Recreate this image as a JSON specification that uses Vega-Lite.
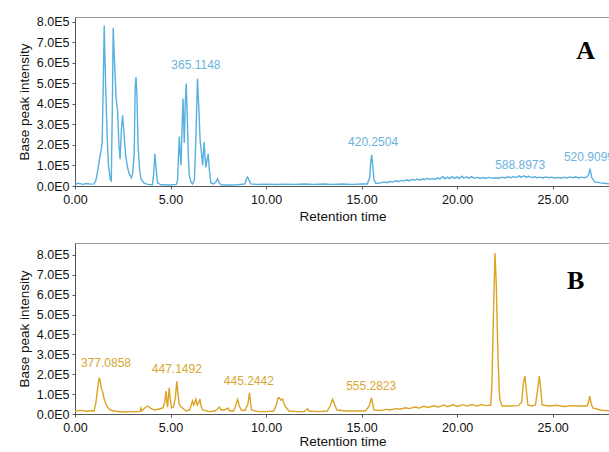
{
"$schema": "https://vega.github.io/schema/vega-lite/v6.json",
"padding": {"left": 16, "top": 15, "right": 0, "bottom": 0},
"background": "white",
"spacing": 18,
"config": {
 "font": "Liberation Sans",
 "view": {"stroke": "#9a9a9a", "strokeWidth": 1},
 "axis": {"grid": false, "labelFlush": false, "domainColor": "#555", "tickColor": "#555", "tickSize": 3, "labelFontSize": 12.5, "labelColor": "#111", "titleFontSize": 13.5, "titleFontWeight": "normal", "titleColor": "#111", "labelFont": "Liberation Sans", "titleFont": "Liberation Sans"}
},
"datasets": {
 "a": [
 {"t":0,"i":0.1},{"t":0.2,"i":0.13},{"t":0.4,"i":0.08},{"t":0.6,"i":0.12},{"t":0.8,"i":0.09},{"t":1.0,"i":0.1},{"t":1.1,"i":0.3},{"t":1.2,"i":0.8},{"t":1.3,"i":1.4},{"t":1.38,"i":1.8},{"t":1.42,"i":2.1},{"t":1.47,"i":4.5},{"t":1.53,"i":7.8},{"t":1.6,"i":5.0},{"t":1.68,"i":2.5},{"t":1.75,"i":1.0},{"t":1.85,"i":0.3},{"t":1.9,"i":0.25},{"t":1.95,"i":3.5},{"t":2.0,"i":7.7},{"t":2.07,"i":6.0},{"t":2.15,"i":4.3},{"t":2.23,"i":3.6},{"t":2.3,"i":2.0},{"t":2.36,"i":1.3},{"t":2.43,"i":2.8},{"t":2.49,"i":3.44},{"t":2.56,"i":2.6},{"t":2.65,"i":1.5},{"t":2.75,"i":0.9},{"t":2.84,"i":0.6},{"t":2.95,"i":0.4},{"t":3.02,"i":0.6},{"t":3.1,"i":1.6},{"t":3.15,"i":4.8},{"t":3.19,"i":5.3},{"t":3.24,"i":4.5},{"t":3.3,"i":2.0},{"t":3.38,"i":0.8},{"t":3.45,"i":0.35},{"t":3.6,"i":0.15},{"t":3.8,"i":0.08},{"t":4.05,"i":0.06},{"t":4.12,"i":0.6},{"t":4.18,"i":1.57},{"t":4.25,"i":0.8},{"t":4.32,"i":0.15},{"t":4.5,"i":0.06},{"t":5.0,"i":0.05},{"t":5.3,"i":0.08},{"t":5.37,"i":0.3},{"t":5.42,"i":1.6},{"t":5.46,"i":2.4},{"t":5.5,"i":1.6},{"t":5.55,"i":1.0},{"t":5.6,"i":2.8},{"t":5.65,"i":4.25},{"t":5.69,"i":3.0},{"t":5.72,"i":2.1},{"t":5.77,"i":4.0},{"t":5.82,"i":4.98},{"t":5.87,"i":3.5},{"t":5.93,"i":1.5},{"t":5.98,"i":0.5},{"t":6.07,"i":0.2},{"t":6.15,"i":0.1},{"t":6.25,"i":0.3},{"t":6.33,"i":2.5},{"t":6.41,"i":5.22},{"t":6.48,"i":3.8},{"t":6.55,"i":2.2},{"t":6.59,"i":1.9},{"t":6.68,"i":1.0},{"t":6.72,"i":1.6},{"t":6.76,"i":2.14},{"t":6.8,"i":1.5},{"t":6.85,"i":0.9},{"t":6.9,"i":1.2},{"t":6.97,"i":1.57},{"t":7.03,"i":0.8},{"t":7.11,"i":0.15},{"t":7.25,"i":0.1},{"t":7.38,"i":0.2},{"t":7.46,"i":0.35},{"t":7.55,"i":0.15},{"t":7.64,"i":0.06},{"t":8.0,"i":0.05},{"t":8.5,"i":0.06},{"t":8.9,"i":0.1},{"t":8.97,"i":0.35},{"t":9.03,"i":0.44},{"t":9.1,"i":0.3},{"t":9.2,"i":0.1},{"t":9.5,"i":0.08},{"t":10,"i":0.09},{"t":10.5,"i":0.07},{"t":11,"i":0.09},{"t":11.5,"i":0.08},{"t":12,"i":0.1},{"t":12.5,"i":0.08},{"t":13,"i":0.1},{"t":13.5,"i":0.08},{"t":14,"i":0.1},{"t":14.5,"i":0.08},{"t":15,"i":0.1},{"t":15.3,"i":0.1},{"t":15.42,"i":0.4},{"t":15.48,"i":1.2},{"t":15.53,"i":1.52},{"t":15.58,"i":1.0},{"t":15.65,"i":0.3},{"t":15.75,"i":0.12},{"t":16,"i":0.15},{"t":16.2,"i":0.2},{"t":16.3,"i":0.16},{"t":16.5,"i":0.22},{"t":16.6,"i":0.19},{"t":16.8,"i":0.25},{"t":16.9,"i":0.21},{"t":17.1,"i":0.27},{"t":17.2,"i":0.24},{"t":17.35,"i":0.3},{"t":17.5,"i":0.25},{"t":17.6,"i":0.31},{"t":17.8,"i":0.29},{"t":17.9,"i":0.34},{"t":18.05,"i":0.28},{"t":18.2,"i":0.35},{"t":18.3,"i":0.31},{"t":18.45,"i":0.38},{"t":18.55,"i":0.32},{"t":18.7,"i":0.36},{"t":18.85,"i":0.33},{"t":19.0,"i":0.4},{"t":19.1,"i":0.34},{"t":19.25,"i":0.46},{"t":19.35,"i":0.35},{"t":19.5,"i":0.43},{"t":19.6,"i":0.36},{"t":19.75,"i":0.47},{"t":19.85,"i":0.37},{"t":20.0,"i":0.44},{"t":20.1,"i":0.36},{"t":20.25,"i":0.48},{"t":20.35,"i":0.38},{"t":20.5,"i":0.45},{"t":20.6,"i":0.37},{"t":20.75,"i":0.46},{"t":20.9,"i":0.38},{"t":21.05,"i":0.42},{"t":21.2,"i":0.37},{"t":21.35,"i":0.41},{"t":21.5,"i":0.38},{"t":21.7,"i":0.42},{"t":21.85,"i":0.37},{"t":22.0,"i":0.4},{"t":22.2,"i":0.38},{"t":22.35,"i":0.43},{"t":22.5,"i":0.39},{"t":22.65,"i":0.45},{"t":22.8,"i":0.4},{"t":22.95,"i":0.46},{"t":23.1,"i":0.41},{"t":23.25,"i":0.49},{"t":23.35,"i":0.42},{"t":23.5,"i":0.5},{"t":23.6,"i":0.43},{"t":23.75,"i":0.47},{"t":23.9,"i":0.41},{"t":24.05,"i":0.45},{"t":24.2,"i":0.4},{"t":24.35,"i":0.43},{"t":24.5,"i":0.39},{"t":24.65,"i":0.44},{"t":24.8,"i":0.4},{"t":24.95,"i":0.43},{"t":25.1,"i":0.39},{"t":25.3,"i":0.42},{"t":25.45,"i":0.38},{"t":25.6,"i":0.43},{"t":25.75,"i":0.39},{"t":25.9,"i":0.44},{"t":26.05,"i":0.4},{"t":26.2,"i":0.45},{"t":26.35,"i":0.39},{"t":26.5,"i":0.43},{"t":26.65,"i":0.4},{"t":26.8,"i":0.44},{"t":26.88,"i":0.55},{"t":26.95,"i":0.84},{"t":27.05,"i":0.4},{"t":27.2,"i":0.2},{"t":27.5,"i":0.15},{"t":27.8,"i":0.12},{"t":28,"i":0.1}
 ],
 "b": [
 {"t":0,"i":0.15},{"t":0.3,"i":0.18},{"t":0.6,"i":0.14},{"t":0.9,"i":0.16},{"t":1.0,"i":0.15},{"t":1.1,"i":0.6},{"t":1.2,"i":1.4},{"t":1.27,"i":1.83},{"t":1.33,"i":1.6},{"t":1.38,"i":1.3},{"t":1.45,"i":1.1},{"t":1.53,"i":0.74},{"t":1.62,"i":0.5},{"t":1.71,"i":0.33},{"t":1.85,"i":0.2},{"t":2.06,"i":0.15},{"t":2.5,"i":0.1},{"t":3.0,"i":0.12},{"t":3.4,"i":0.12},{"t":3.45,"i":0.3},{"t":3.5,"i":0.15},{"t":3.65,"i":0.3},{"t":3.8,"i":0.4},{"t":3.95,"i":0.3},{"t":4.15,"i":0.2},{"t":4.4,"i":0.25},{"t":4.6,"i":0.3},{"t":4.7,"i":0.6},{"t":4.76,"i":1.15},{"t":4.81,"i":0.6},{"t":4.85,"i":0.35},{"t":4.89,"i":0.9},{"t":4.93,"i":1.32},{"t":4.98,"i":0.8},{"t":5.05,"i":0.3},{"t":5.15,"i":0.35},{"t":5.25,"i":0.8},{"t":5.33,"i":1.65},{"t":5.39,"i":1.0},{"t":5.45,"i":0.5},{"t":5.55,"i":0.35},{"t":5.63,"i":0.3},{"t":5.8,"i":0.15},{"t":6.0,"i":0.2},{"t":6.1,"i":0.5},{"t":6.15,"i":0.65},{"t":6.22,"i":0.45},{"t":6.28,"i":0.6},{"t":6.33,"i":0.75},{"t":6.4,"i":0.45},{"t":6.47,"i":0.55},{"t":6.54,"i":0.75},{"t":6.6,"i":0.4},{"t":6.68,"i":0.2},{"t":7.0,"i":0.12},{"t":7.3,"i":0.15},{"t":7.45,"i":0.25},{"t":7.56,"i":0.35},{"t":7.65,"i":0.2},{"t":7.8,"i":0.2},{"t":7.9,"i":0.25},{"t":7.99,"i":0.3},{"t":8.1,"i":0.15},{"t":8.3,"i":0.15},{"t":8.42,"i":0.45},{"t":8.51,"i":0.74},{"t":8.6,"i":0.4},{"t":8.7,"i":0.2},{"t":8.9,"i":0.18},{"t":9.05,"i":0.5},{"t":9.13,"i":1.07},{"t":9.2,"i":0.5},{"t":9.24,"i":0.2},{"t":9.6,"i":0.12},{"t":10.0,"i":0.12},{"t":10.4,"i":0.15},{"t":10.55,"i":0.5},{"t":10.62,"i":0.8},{"t":10.69,"i":0.82},{"t":10.76,"i":0.7},{"t":10.86,"i":0.75},{"t":10.95,"i":0.5},{"t":11.03,"i":0.35},{"t":11.2,"i":0.15},{"t":11.6,"i":0.12},{"t":12.0,"i":0.12},{"t":12.1,"i":0.2},{"t":12.17,"i":0.27},{"t":12.25,"i":0.15},{"t":12.7,"i":0.12},{"t":13.2,"i":0.15},{"t":13.35,"i":0.4},{"t":13.48,"i":0.74},{"t":13.58,"i":0.5},{"t":13.7,"i":0.2},{"t":14.2,"i":0.15},{"t":14.7,"i":0.15},{"t":15.2,"i":0.15},{"t":15.4,"i":0.4},{"t":15.52,"i":0.82},{"t":15.6,"i":0.4},{"t":15.65,"i":0.2},{"t":16,"i":0.18},{"t":16.3,"i":0.23},{"t":16.5,"i":0.2},{"t":16.8,"i":0.27},{"t":17.0,"i":0.24},{"t":17.3,"i":0.31},{"t":17.5,"i":0.27},{"t":17.8,"i":0.35},{"t":18.0,"i":0.3},{"t":18.25,"i":0.39},{"t":18.5,"i":0.33},{"t":18.75,"i":0.41},{"t":19.0,"i":0.35},{"t":19.3,"i":0.45},{"t":19.5,"i":0.37},{"t":19.8,"i":0.46},{"t":20.0,"i":0.38},{"t":20.3,"i":0.47},{"t":20.5,"i":0.4},{"t":20.8,"i":0.48},{"t":21.0,"i":0.4},{"t":21.3,"i":0.47},{"t":21.5,"i":0.42},{"t":21.76,"i":0.45},{"t":21.82,"i":1.5},{"t":21.9,"i":5.0},{"t":21.98,"i":8.1},{"t":22.05,"i":6.5},{"t":22.12,"i":3.5},{"t":22.2,"i":1.2},{"t":22.24,"i":0.7},{"t":22.36,"i":0.4},{"t":22.7,"i":0.4},{"t":23.2,"i":0.42},{"t":23.38,"i":0.6},{"t":23.46,"i":1.5},{"t":23.54,"i":1.91},{"t":23.6,"i":1.4},{"t":23.7,"i":0.45},{"t":23.9,"i":0.4},{"t":24.1,"i":0.45},{"t":24.22,"i":1.3},{"t":24.3,"i":1.91},{"t":24.37,"i":1.3},{"t":24.45,"i":0.45},{"t":24.8,"i":0.4},{"t":25.2,"i":0.44},{"t":25.6,"i":0.38},{"t":26.0,"i":0.42},{"t":26.4,"i":0.4},{"t":26.8,"i":0.4},{"t":26.88,"i":0.6},{"t":26.94,"i":0.9},{"t":27.02,"i":0.5},{"t":27.1,"i":0.3},{"t":27.5,"i":0.2},{"t":28,"i":0.15}
 ],
 "la": [{"t":6.33,"i":5.88,"s":"365.1148"},{"t":15.6,"i":2.14,"s":"420.2504"},{"t":23.3,"i":1.0,"s":"588.8973"},{"t":26.9,"i":1.4,"s":"520.9099"}],
 "lb": [{"t":1.62,"i":2.56,"s":"377.0858"},{"t":5.33,"i":2.26,"s":"447.1492"},{"t":9.1,"i":1.66,"s":"445.2442"},{"t":15.5,"i":1.41,"s":"555.2823"}],
 "pa": [{"t":26.73,"i":6.57,"s":"A"}],
 "pb": [{"t":26.2,"i":6.68,"s":"B"}]
},
"vconcat": [
 {
  "width": 535, "height": 169,
  "encoding": {
   "x": {"field": "t", "type": "quantitative", "scale": {"domain": [0, 28], "nice": false}, "axis": {"title": "Retention time", "values": [0,5,10,15,20,25], "format": ".2f", "labelPadding": 4, "titlePadding": 4}},
   "y": {"field": "i", "type": "quantitative", "scale": {"domain": [0, 8.22], "nice": false}, "axis": {"title": "Base peak intensity", "values": [0,1,2,3,4,5,6,7,8], "labelExpr": "format(datum.value, '.1f') + (datum.value == 0 ? 'E0' : 'E5')", "labelPadding": 3, "titlePadding": 5}}
  },
  "layer": [
   {"data": {"name": "a"}, "mark": {"type": "line", "color": "#58b0de", "strokeWidth": 1.4, "clip": true}},
   {"data": {"name": "la"}, "mark": {"type": "text", "color": "#6cb3dc", "fontSize": 12, "align": "center", "baseline": "middle", "font": "Liberation Sans"}, "encoding": {"text": {"field": "s"}}},
   {"data": {"name": "pa"}, "mark": {"type": "text", "color": "#000", "fontSize": 26, "fontWeight": "bold", "font": "Liberation Serif", "align": "center", "baseline": "middle"}, "encoding": {"text": {"field": "s"}}}
  ]
 },
 {
  "width": 535, "height": 171,
  "encoding": {
   "x": {"field": "t", "type": "quantitative", "scale": {"domain": [0, 28], "nice": false}, "axis": {"title": "Retention time", "values": [0,5,10,15,20,25], "format": ".2f", "labelPadding": 4, "titlePadding": 1}},
   "y": {"field": "i", "type": "quantitative", "scale": {"domain": [0, 8.6], "nice": false}, "axis": {"title": "Base peak intensity", "values": [0,1,2,3,4,5,6,7,8], "labelExpr": "format(datum.value, '.1f') + (datum.value == 0 ? 'E0' : 'E5')", "labelPadding": 3, "titlePadding": 5}}
  },
  "layer": [
   {"data": {"name": "b"}, "mark": {"type": "line", "color": "#dca425", "strokeWidth": 1.4, "clip": true}},
   {"data": {"name": "lb"}, "mark": {"type": "text", "color": "#d8a633", "fontSize": 12, "align": "center", "baseline": "middle", "font": "Liberation Sans"}, "encoding": {"text": {"field": "s"}}},
   {"data": {"name": "pb"}, "mark": {"type": "text", "color": "#000", "fontSize": 26, "fontWeight": "bold", "font": "Liberation Serif", "align": "center", "baseline": "middle"}, "encoding": {"text": {"field": "s"}}}
  ]
 }
]
}
